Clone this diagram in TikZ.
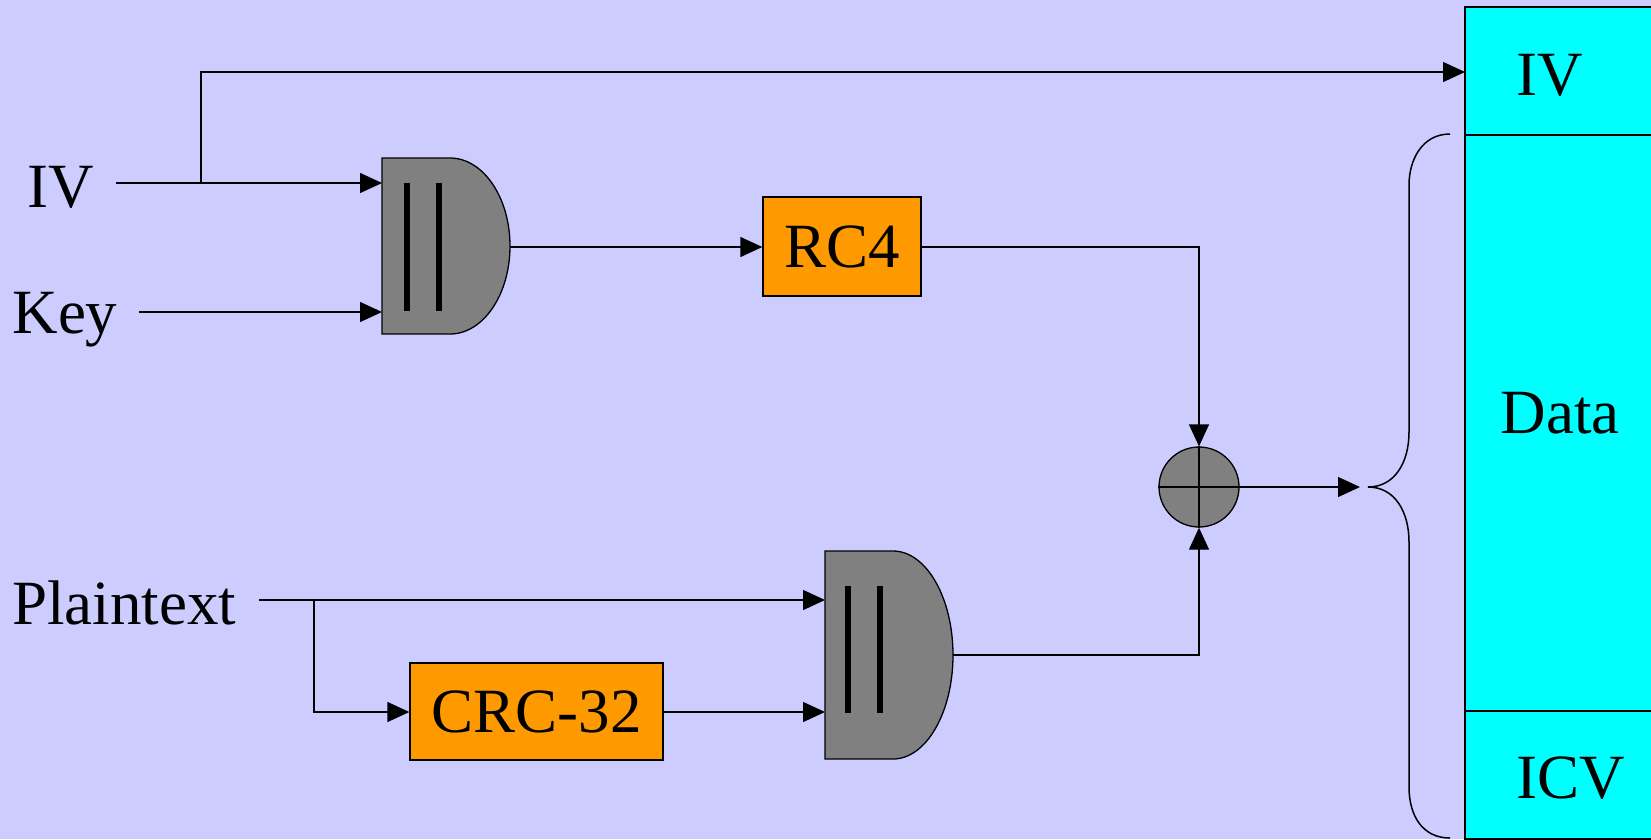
\documentclass[tikz,border=0pt]{standalone}
\usepackage{fontspec}
\setmainfont{Liberation Serif}
\usetikzlibrary{arrows.meta}
\definecolor{bgc}{HTML}{CCCCFF}
\definecolor{gatec}{HTML}{808080}
\definecolor{orangec}{HTML}{FF9900}
\definecolor{cyanc}{HTML}{00FFFF}
\tikzset{
  wire/.style={line width=1.3pt},
  arr/.style={wire,-{Triangle[length=22pt,width=20pt]}},
  box/.style={draw,line width=1.3pt,fill=orangec,inner sep=0pt,font=\fontsize{63}{70}\selectfont},
  lbl/.style={inner sep=0pt,font=\fontsize{63}{70}\selectfont},
  gateshape/.style={draw,line width=1.3pt,fill=gatec},
  bar/.style={line width=6pt},
}
\begin{document}
\begin{tikzpicture}[x=1pt,y=-1pt]
\useasboundingbox (0,0) rectangle (1651,839);
\clip (0,0) rectangle (1651,839);
\fill[bgc] (0,0) rectangle (1651,839);

% right-hand frame
\draw[line width=1.3pt,fill=cyanc] (1465,7) rectangle (1700,135);
\draw[line width=1.3pt,fill=cyanc] (1465,135) rectangle (1700,711);
\draw[line width=1.3pt,fill=cyanc] (1465,711) rectangle (1700,839);
\node[lbl] (fiv) at (1550,75) {IV};
\node[lbl] (fdata) at (1560,413) {Data};
\node[lbl] (ficv) at (1571,778) {ICV};
\coordinate (fivin) at (1465,72);

% brace
\draw[line width=1.5pt] (1450,134) .. controls (1422,134) and (1409,160) .. (1409,185)
  -- (1409,432) .. controls (1409,462) and (1395,487) .. (1368,487)
  .. controls (1395,487) and (1409,512) .. (1409,542)
  -- (1409,787) .. controls (1409,815) and (1422,838) .. (1450,838);
\coordinate (brace) at (1360,487);

% upper concatenation gate
\draw[gateshape] (382,158) -- (450,158) .. controls (483.1,158) and (510,197.4) .. (510,246)
  .. controls (510,294.6) and (483.1,334) .. (450,334) -- (382,334) -- cycle;
\draw[bar] (407,183) -- (407,311);
\draw[bar] (439,183) -- (439,311);
\node[inner sep=0pt,minimum width=128pt,minimum height=176pt] (g1) at (446,246) {};
\coordinate (g1a) at (382,183);
\coordinate (g1b) at (382,312);
\coordinate (g1o) at (510,247);

% lower concatenation gate
\draw[gateshape] (825,551) -- (893,551) .. controls (926.1,551) and (953,597.6) .. (953,655)
  .. controls (953,712.4) and (926.1,759) .. (893,759) -- (825,759) -- cycle;
\draw[bar] (848,586) -- (848,713);
\draw[bar] (880,586) -- (880,713);
\node[inner sep=0pt,minimum width=128pt,minimum height=208pt] (g2) at (889,655) {};
\coordinate (g2a) at (825,600);
\coordinate (g2b) at (825,712);
\coordinate (g2o) at (953,655);

% boxes
\node[box,minimum width=158pt,minimum height=99pt] (rc4) at (842,246.5) {RC4};
\node[box,minimum width=253pt,minimum height=97pt] (crc) at (536.5,711.5) {CRC-32};

% xor
\node[draw,circle,line width=1.3pt,fill=gatec,minimum size=80pt,inner sep=0pt] (xor) at (1199,487) {};
\draw[wire] (xor.north) -- (xor.south);
\draw[wire] (xor.west) -- (xor.east);

% inputs
\node[lbl] (iv) at (61,187) {IV};
\node[lbl] (key) at (65,320) {Key};
\node[lbl] (pt) at (124,603) {Plaintext};
\coordinate (ivs) at (116,183);
\coordinate (keys) at (139,312);
\coordinate (pts) at (259,600);
\coordinate (ivbr) at (201,183);
\coordinate (ptbr) at (314,600);

% connectors
\draw[arr] (ivs) -- (g1a);
\draw[arr] (ivbr) |- (fivin);
\draw[arr] (keys) -- (g1b);
\draw[arr] (g1o) -- (g1o -| rc4.west);
\draw[arr] (rc4.east |- g1o) -| (xor.north);
\draw[arr] (pts) -- (g2a);
\draw[arr] (ptbr) |- (crc.west |- g2b);
\draw[arr] (crc.east |- g2b) -- (g2b);
\draw[arr] (g2o) -| (xor.south);
\draw[arr] (xor.east) -- (brace);
\end{tikzpicture}
\end{document}
